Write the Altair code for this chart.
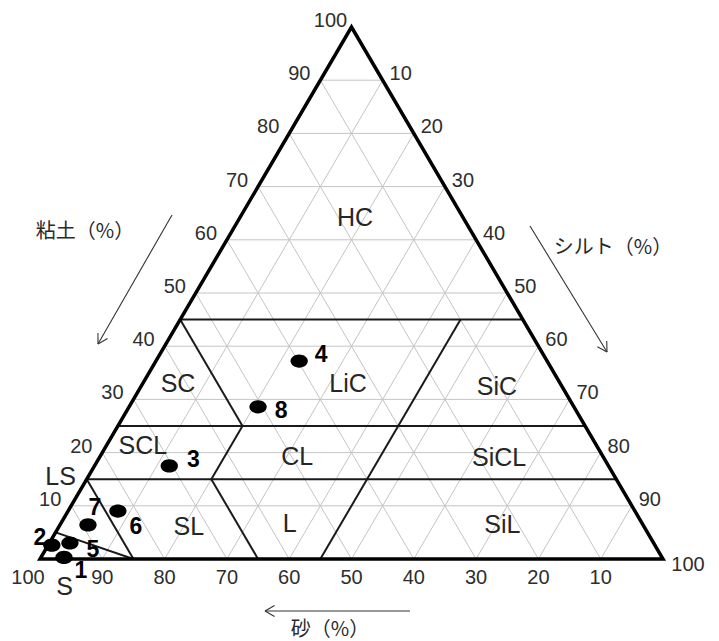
import math
import altair as alt
import pandas as pd

# ---------------- data ----------------
SAMPLE_IDS = ["1", "2", "3", "4", "5", "6", "7", "8"]
SAMPLE_CLAY = [0.3, 2.6, 17.5, 37.2, 3.0, 9.0, 6.4, 28.6]
SAMPLE_SILT = [3.7, 0.6, 12.0, 23.0, 3.3, 8.0, 4.5, 20.7]
SAMPLE_SAND = [round(100 - c - s, 1) for c, s in zip(SAMPLE_CLAY, SAMPLE_SILT)]

GRID_VALUES = [10, 20, 30, 40, 50, 60, 70, 80, 90]
TICK_VALUES = [10, 20, 30, 40, 50, 60, 70, 80, 90, 100]

CLASS_NAMES = ["HC", "SC", "LiC", "SiC", "SCL", "CL", "SiCL", "SL", "L", "SiL", "LS", "S"]
CLASS_CLAY = [64.1, 32.9, 32.9, 32.3, 21.2, 19.2, 19.0, 6.0, 6.6, 6.4, 15.4, -5.3]
CLASS_SILT = [18.5, 5.7, 33.0, 57.2, 5.9, 31.7, 64.2, 20.9, 36.8, 71.0, -4.4, 6.6]

# texture-class boundaries, (clay, silt) of each end
BOUNDARY_START = [(45, 0), (25, 0), (15, 0), (45, 0), (25, 20), (15, 20), (15, 0), (5, 0), (45, 45)]
BOUNDARY_END = [(45, 55), (25, 75), (15, 85), (25, 20), (15, 20), (0, 35), (0, 15), (0, 15), (0, 45)]

AXIS_TITLES = ["粘土（%）", "シルト（%）", "砂（%）"]

# ---------------- layout ----------------
W, H = 700, 633
OX, OY = 40.0, 559.0          # page px of the sand-100 corner
SIDE_PX, HEIGHT_PX = 623.0, 532.0
KX, KY = SIDE_PX / 100.0, HEIGHT_PX / 100.0
XMIN = (8 - OX) / KX
XMAX = XMIN + W / KX
YMAX = (OY - 8) / KY
YMIN = YMAX - H / KY

LABEL_DX = [17, -12, 24, 22, 23, 18, 7, 23]
LABEL_DY = [14, -7, -6, -6, 7, 16, -17, 4]

TITLE_PX = [(85, 232), (613, 248), (330, 630)]
ARROWS_PX = [((172, 215), (98, 344)), ((530, 226), (607, 352)), ((410, 611), (265, 611))]


def tx(clay, silt):
    return silt + clay / 2.0


def px2data(px, py):
    return (px - OX) / KX, (OY - py) / KY


xs = alt.Scale(domain=[XMIN, XMAX], nice=False, zero=False)
ys = alt.Scale(domain=[YMIN, YMAX], nice=False, zero=False)


def X(f="x"):
    return alt.X(f"{f}:Q", scale=xs, axis=None)


def Y(f="y"):
    return alt.Y(f"{f}:Q", scale=ys, axis=None)


# grid
rows = []
for k in GRID_VALUES:
    for a, b in [((k, 0), (k, 100 - k)), ((0, k), (100 - k, k)), ((0, 100 - k), (100 - k, 0))]:
        rows.append(dict(x=tx(*a), y=a[0], x2=tx(*b), y2=b[0]))
grid = alt.Chart(pd.DataFrame(rows)).mark_rule(color="#c4c4c4", strokeWidth=1).encode(
    x=X(), y=Y(), x2="x2:Q", y2="y2:Q")

# boundaries
rows = [dict(x=tx(*a), y=a[0], x2=tx(*b), y2=b[0]) for a, b in zip(BOUNDARY_START, BOUNDARY_END)]
bounds = alt.Chart(pd.DataFrame(rows)).mark_rule(color="#1a1a1a", strokeWidth=2).encode(
    x=X(), y=Y(), x2="x2:Q", y2="y2:Q")

# outline
corners = [(0, 50), (0, 100), (100, 0), (0, 0), (0, 50)]
outline_df = pd.DataFrame([dict(x=tx(c, s), y=c, o=i) for i, (c, s) in enumerate(corners)])
outline = alt.Chart(outline_df).mark_line(color="black", strokeWidth=3.5, strokeJoin="miter").encode(
    x=X(), y=Y(), order="o:Q")

# tick labels
tick_font = dict(font="Liberation Sans", fontSize=20, color="#2e2e2e", align="center", baseline="middle")
clay_df = pd.DataFrame([dict(x=tx(k, 0), y=k, t=str(k)) for k in TICK_VALUES])
clay_lab = alt.Chart(clay_df).mark_text(dx=-21, dy=-6, **tick_font).encode(x=X(), y=Y(), text="t:N")
silt_df = pd.DataFrame([dict(x=tx(100 - k, k), y=100 - k, t=str(k)) for k in TICK_VALUES if k < 100])
silt_lab = alt.Chart(silt_df).mark_text(dx=18, dy=-6, **tick_font).encode(x=X(), y=Y(), text="t:N")
silt100 = alt.Chart(pd.DataFrame([dict(x=tx(0, 100), y=0, t="100")])).mark_text(
    dx=25, dy=6, **tick_font).encode(x=X(), y=Y(), text="t:N")
sand_df = pd.DataFrame([dict(x=tx(0, 100 - k), y=0, t=str(k)) for k in TICK_VALUES if k < 100])
sand_lab = alt.Chart(sand_df).mark_text(dy=19, **tick_font).encode(x=X(), y=Y(), text="t:N")
sand100 = alt.Chart(pd.DataFrame([dict(x=tx(0, 0), y=0, t="100")])).mark_text(
    dx=-12, dy=19, **tick_font).encode(x=X(), y=Y(), text="t:N")

# class labels
cls_df = pd.DataFrame(dict(x=[tx(c, s) for c, s in zip(CLASS_CLAY, CLASS_SILT)], y=CLASS_CLAY, t=CLASS_NAMES))
cls = alt.Chart(cls_df).mark_text(font="Liberation Sans", fontSize=25, color="#262626",
                                   align="center", baseline="middle").encode(x=X(), y=Y(), text="t:N")

# samples
smp_df = pd.DataFrame(dict(id=SAMPLE_IDS, clay=SAMPLE_CLAY, silt=SAMPLE_SILT, sand=SAMPLE_SAND))
smp_df["x"] = [tx(c, s) for c, s in zip(SAMPLE_CLAY, SAMPLE_SILT)]
smp_df["y"] = SAMPLE_CLAY
smp_df["lx"] = smp_df["x"] + pd.Series(LABEL_DX) / KX
smp_df["ly"] = smp_df["y"] - pd.Series(LABEL_DY) / KY
ellipse = "M-1,0A1,0.76,0,1,1,1,0A1,0.76,0,1,1,-1,0Z"
pts = alt.Chart(smp_df).mark_point(shape=ellipse, size=300, filled=True, color="black", opacity=1).encode(
    x=X(), y=Y(), tooltip=["id:N", "clay:Q", "silt:Q", "sand:Q"])
pt_lab = alt.Chart(smp_df).mark_text(font="Liberation Sans", fontSize=23, fontWeight="bold", color="black",
                                     align="center", baseline="middle").encode(x=X("lx"), y=Y("ly"), text="id:N")

# axis titles
tdf = pd.DataFrame([dict(x=px2data(*p)[0], y=px2data(*p)[1], t=t) for p, t in zip(TITLE_PX, AXIS_TITLES)])
titles = alt.Chart(tdf).mark_text(font="Noto Sans CJK JP", fontSize=20, color="#2a2a2a",
                                  align="center", baseline="middle").encode(x=X(), y=Y(), text="t:N")

# arrows
rows = []
for (p0, p1) in ARROWS_PX:
    rows.append((p0, p1))
    dxp, dyp = p1[0] - p0[0], p1[1] - p0[1]
    ln = math.hypot(dxp, dyp)
    ux, uy = dxp / ln, dyp / ln
    for ang in (math.radians(30), -math.radians(30)):
        rx = ux * math.cos(ang) - uy * math.sin(ang)
        ry = ux * math.sin(ang) + uy * math.cos(ang)
        rows.append((p1, (p1[0] - 11 * rx, p1[1] - 11 * ry)))
arr_df = pd.DataFrame([dict(x=px2data(*a)[0], y=px2data(*a)[1], x2=px2data(*b)[0], y2=px2data(*b)[1])
                       for a, b in rows])
arrows = alt.Chart(arr_df).mark_rule(color="#333333", strokeWidth=1.1).encode(
    x=X(), y=Y(), x2="x2:Q", y2="y2:Q")

chart = alt.layer(grid, bounds, outline, clay_lab, silt_lab, silt100, sand_lab, sand100, cls,
                  pts, pt_lab, titles, arrows).properties(
    width=W, height=H, padding=0, autosize=alt.AutoSizeParams(type="none"), background="white"
).configure_view(stroke=None)

chart.save("out.html", embed_options={"renderer": "svg", "actions": False})
